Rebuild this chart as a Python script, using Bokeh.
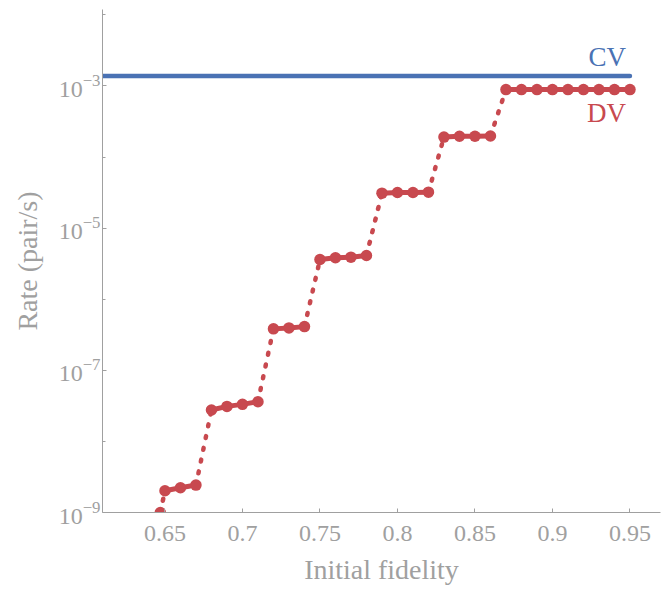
from bokeh.plotting import figure
from bokeh.models import Range1d, FixedTicker, LogTickFormatter
from bokeh.core.properties import value
from bokeh.embed import file_html
from bokeh.resources import INLINE

# ---- data ----
dv_fidelity = [0.647, 0.65, 0.66, 0.67, 0.68, 0.69, 0.70, 0.71, 0.72, 0.73, 0.74,
               0.75, 0.76, 0.77, 0.78, 0.79, 0.80, 0.81, 0.82, 0.83, 0.84, 0.85,
               0.86, 0.87, 0.88, 0.89, 0.90, 0.91, 0.92, 0.93, 0.94, 0.95]
dv_rate = [1.0e-9, 2.02e-9, 2.23e-9, 2.43e-9, 2.77e-8, 3.11e-8, 3.32e-8, 3.62e-8,
           3.83e-7, 3.95e-7, 4.12e-7, 3.62e-6, 3.83e-6, 3.91e-6, 4.13e-6,
           3.11e-5, 3.18e-5, 3.18e-5, 3.21e-5, 1.91e-4, 1.96e-4, 1.96e-4, 1.98e-4,
           8.89e-4, 8.89e-4, 8.89e-4, 8.89e-4, 8.89e-4, 8.89e-4, 8.89e-4, 8.89e-4, 8.89e-4]
cv_fidelity = [0.6097, 0.95]
cv_rate = [1.38e-3, 1.38e-3]

x_ticks = [0.65, 0.7, 0.75, 0.8, 0.85, 0.9, 0.95]
x_tick_labels = ["0.65", "0.7", "0.75", "0.8", "0.85", "0.9", "0.95"]
y_ticks = [1e-9, 1e-7, 1e-5, 1e-3]
y_minor_ticks = [1e-8, 1e-6, 1e-4, 1e-2]
series_labels = ["CV", "DV"]

BLUE = "#4a72b4"
RED = "#c8494f"
GRAY = "#a0a0a0"
FONT = "Liberation Serif"

p = figure(width=667, height=589, output_backend="svg", toolbar_location=None,
           y_axis_type="log",
           x_range=Range1d(0.6097, 0.9697), y_range=Range1d(1e-9, 10 ** -1.924),
           min_border_left=102, min_border_right=7, min_border_top=9, min_border_bottom=77)
p.outline_line_color = None
p.xgrid.visible = False
p.ygrid.visible = False

# segments: solid within plateaus, dotted for jumps
solid_xs, solid_ys, dot_xs, dot_ys = [], [], [], []
for i in range(len(dv_fidelity) - 1):
    seg_x = [dv_fidelity[i], dv_fidelity[i + 1]]
    seg_y = [dv_rate[i], dv_rate[i + 1]]
    if dv_rate[i + 1] / dv_rate[i] < 1.5:
        solid_xs.append(seg_x); solid_ys.append(seg_y)
    else:
        dot_xs.append(seg_x); dot_ys.append(seg_y)

p.multi_line(solid_xs, solid_ys, line_color=RED, line_width=5, line_cap="round")
p.multi_line(dot_xs, dot_ys, line_color=RED, line_width=4.5, line_cap="round",
             line_dash="2 10")
p.scatter(dv_fidelity, dv_rate, size=11.5, fill_color=RED, line_color=None)

p.line(cv_fidelity, cv_rate, line_color=BLUE, line_width=4.5, line_cap="round")

p.text(x=[cv_fidelity[-1]], y=[cv_rate[-1]], text=[series_labels[0]],
       text_color=BLUE, text_font=value(FONT), text_font_size="27px",
       text_align="right", text_baseline="alphabetic", x_offset=-4, y_offset=-19)
p.text(x=[dv_fidelity[-1]], y=[dv_rate[-1]], text=[series_labels[1]],
       text_color=RED, text_font=value(FONT), text_font_size="27px",
       text_align="right", text_baseline="alphabetic", x_offset=-4, y_offset=23)

# axes
p.xaxis.ticker = FixedTicker(ticks=x_ticks, minor_ticks=[])
p.xaxis.major_label_overrides = dict(zip(x_ticks, x_tick_labels))
p.yaxis.ticker = FixedTicker(ticks=y_ticks, minor_ticks=y_minor_ticks)
p.yaxis.formatter = LogTickFormatter()

for ax in (p.xaxis[0], p.yaxis[0]):
    ax.axis_line_color = GRAY
    ax.major_tick_line_color = GRAY
    ax.minor_tick_line_color = GRAY
    ax.major_tick_in = 4
    ax.major_tick_out = 0
    ax.minor_tick_in = 3
    ax.minor_tick_out = 0
    ax.major_label_text_color = GRAY
    ax.major_label_text_font = FONT
    ax.major_label_text_font_size = "24px"
    ax.axis_label_text_color = GRAY
    ax.axis_label_text_font = FONT
    ax.axis_label_text_font_size = "28px"
    ax.axis_label_text_font_style = "normal"

p.xaxis.axis_label = "Initial fidelity"
p.yaxis.axis_label = "Rate (pair/s)"
p.xaxis.major_label_standoff = 13
p.yaxis.major_label_standoff = 2
p.xaxis.axis_label_standoff = 10
p.yaxis.axis_label_standoff = 13

open("out.html", "w").write(file_html(p, INLINE))
